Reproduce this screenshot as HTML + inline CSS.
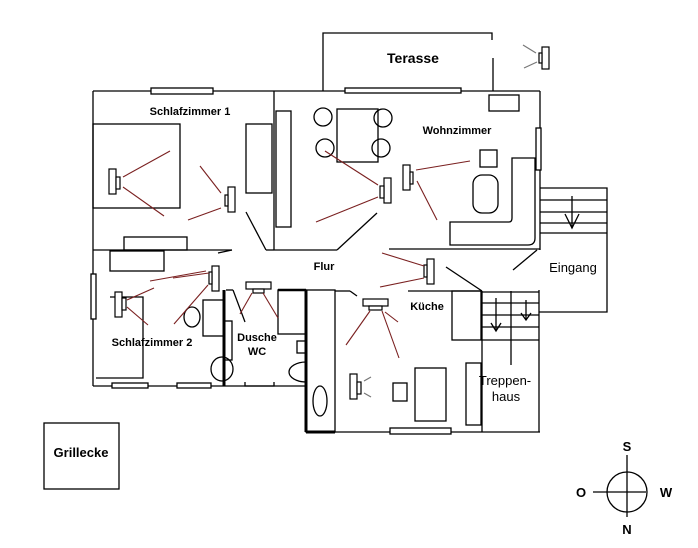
<!DOCTYPE html>
<html><head><meta charset="utf-8"><style>html,body{margin:0;padding:0;background:#fff}svg{display:block}</style></head><body>
<svg width="698" height="548" viewBox="0 0 698 548" xmlns="http://www.w3.org/2000/svg" font-family="Liberation Sans, sans-serif">
<rect width="698" height="548" fill="#fff"/>
<g stroke="#000" stroke-width="1.3" fill="none">
<polyline points="323,91 323,33 492,33 492,40"/>
<line x1="493" y1="58" x2="493" y2="91"/>
<line x1="93" y1="91" x2="540" y2="91"/>
<rect x="151" y="88" width="62" height="6" fill="#fff"/>
<rect x="345" y="88" width="116" height="5" fill="#fff"/>
<line x1="93" y1="91" x2="93" y2="250"/>
<line x1="274" y1="91" x2="274" y2="250"/>
<rect x="93" y="124" width="87" height="84"/>
<rect x="246" y="124" width="26" height="69"/>
<rect x="124" y="237" width="63" height="13"/>
<line x1="93" y1="250" x2="232" y2="250"/>
<line x1="246" y1="212" x2="266" y2="250"/>
<line x1="266" y1="250" x2="274" y2="250"/>
<rect x="276" y="111" width="15" height="116"/>
<line x1="274" y1="250" x2="337" y2="250"/>
<line x1="337" y1="250" x2="377" y2="213"/>
<line x1="389" y1="249" x2="540" y2="249"/>
<rect x="489" y="95" width="30" height="16"/>
<line x1="540" y1="91" x2="540" y2="250"/>
<rect x="536" y="128" width="5" height="42" fill="#fff"/>
<rect x="337" y="109" width="41" height="53"/>
<circle cx="323" cy="117" r="9"/><circle cx="383" cy="118" r="9"/>
<circle cx="325" cy="148" r="9"/><circle cx="381" cy="148" r="9"/>
<rect x="480" y="150" width="17" height="17"/>
<rect x="473" y="175" width="25" height="38" rx="9"/>
<path d="M512,158 L535,158 L535,238 Q535,245 528,245 L450,245 L450,222 L509,222 Q512,222 512,218 Z"/>
<line x1="513" y1="270" x2="537" y2="250"/>
<polyline points="540,188 607,188 607,312 539,312"/>
<line x1="540" y1="200" x2="607" y2="200"/><line x1="540" y1="212" x2="607" y2="212"/>
<line x1="540" y1="223" x2="607" y2="223"/><line x1="540" y1="233" x2="607" y2="233"/>
<line x1="572" y1="196" x2="572" y2="228"/><polyline points="565,214 572,228 579,214"/>
<line x1="93" y1="250" x2="93" y2="386"/>
<rect x="91" y="274" width="5" height="45" fill="#fff"/>
<rect x="110" y="251" width="54" height="20"/>
<polyline points="110,297 143,297 143,378 96,378"/>
<line x1="93" y1="386" x2="224" y2="386"/>
<rect x="112" y="383" width="36" height="5" fill="#fff"/>
<rect x="177" y="383" width="34" height="5" fill="#fff"/>
<line x1="224" y1="290" x2="224" y2="386" stroke-width="3"/>
<rect x="203" y="300" width="21" height="36"/>
<ellipse cx="192" cy="317" rx="8" ry="10"/>
<rect x="224" y="321" width="8" height="39"/>
<ellipse cx="222" cy="369" rx="11" ry="12"/>
<line x1="218" y1="253" x2="232" y2="250"/>
<line x1="224" y1="386" x2="306" y2="386"/>
<polyline points="245,382 245,386 274,386 274,382"/>
<line x1="226" y1="290" x2="233" y2="290"/>
<line x1="233" y1="290" x2="245" y2="322"/>
<rect x="278" y="290" width="28" height="44"/>
<line x1="278" y1="290" x2="306" y2="290" stroke-width="2.5"/>
<rect x="297" y="341" width="9" height="12"/>
<path d="M306,362 A17,10 0 0 0 306,382"/>
<line x1="306" y1="290" x2="306" y2="432" stroke-width="3"/>
<rect x="306" y="290" width="29" height="142"/>
<line x1="306" y1="432" x2="335" y2="432" stroke-width="3"/>
<ellipse cx="320" cy="401" rx="7" ry="15"/>
<line x1="335" y1="291" x2="350" y2="291"/><line x1="350" y1="291" x2="357" y2="296"/>
<line x1="408" y1="291" x2="482" y2="291"/>
<line x1="482" y1="291" x2="482" y2="432"/>
<line x1="335" y1="432" x2="540" y2="432"/>
<rect x="452" y="291" width="29" height="49"/>
<rect x="466" y="363" width="15" height="62"/>
<rect x="415" y="368" width="31" height="53"/>
<rect x="393" y="383" width="14" height="18"/>
<rect x="390" y="428" width="61" height="6" fill="#fff"/>
<line x1="446" y1="267" x2="482" y2="291"/>
<line x1="482" y1="292" x2="539" y2="292"/><line x1="482" y1="303" x2="539" y2="303"/>
<line x1="482" y1="315" x2="539" y2="315"/><line x1="482" y1="327" x2="539" y2="327"/>
<line x1="482" y1="340" x2="539" y2="340"/>
<line x1="511" y1="291" x2="511" y2="365"/>
<line x1="539" y1="290" x2="539" y2="432"/>
<line x1="496" y1="298" x2="496" y2="331"/><polyline points="491,323 496,331 501,323"/>
<line x1="526" y1="300" x2="526" y2="320"/><polyline points="521,313 526,320 531,313"/>
<rect x="44" y="423" width="75" height="66"/>
<circle cx="627" cy="492" r="20"/>
<line x1="593" y1="492" x2="646" y2="492"/>
<line x1="627" y1="455" x2="627" y2="517"/>
</g>
<g stroke="#000" stroke-width="1.2" fill="#fff">
<rect x="109" y="169" width="7" height="25"/><rect x="116" y="177" width="4" height="12"/>
<rect x="228" y="187" width="7" height="25"/><rect x="225" y="195" width="3" height="11"/>
<rect x="384" y="178" width="7" height="25"/><rect x="380" y="186" width="4" height="12"/>
<rect x="403" y="165" width="7" height="25"/><rect x="410" y="172" width="3" height="12"/>
<rect x="542" y="47" width="7" height="22"/><rect x="539" y="53" width="3" height="10"/>
<rect x="427" y="259" width="7" height="25"/><rect x="424" y="265" width="3" height="12"/>
<rect x="212" y="266" width="7" height="25"/><rect x="209" y="272" width="3" height="12"/>
<rect x="115" y="292" width="7" height="25"/><rect x="122" y="298" width="4" height="12"/>
<rect x="246" y="282" width="25" height="7"/><rect x="253" y="289" width="11" height="4"/>
<rect x="363" y="299" width="25" height="7"/><rect x="369" y="306" width="13" height="4"/>
<rect x="350" y="374" width="7" height="25"/><rect x="357" y="382" width="4" height="12"/>
</g>
<g stroke="#7a2020" stroke-width="1.1">
<line x1="123" y1="177" x2="170" y2="151"/><line x1="123" y1="187" x2="164" y2="216"/>
<line x1="200" y1="166" x2="221" y2="193"/><line x1="188" y1="220" x2="221" y2="208"/>
<line x1="325" y1="151" x2="378" y2="185"/><line x1="316" y1="222" x2="378" y2="197"/>
<line x1="416" y1="170" x2="470" y2="161"/><line x1="417" y1="181" x2="437" y2="220"/>
<line x1="382" y1="253" x2="424" y2="266"/><line x1="380" y1="287" x2="424" y2="278"/>
<line x1="150" y1="281" x2="206" y2="271"/><line x1="173" y1="278" x2="209" y2="273"/>
<line x1="208" y1="285" x2="174" y2="324"/><line x1="127" y1="300" x2="154" y2="288"/>
<line x1="127" y1="307" x2="148" y2="325"/>
<line x1="252" y1="293" x2="240" y2="314"/><line x1="263" y1="293" x2="278" y2="318"/>
<line x1="370" y1="311" x2="346" y2="345"/><line x1="382" y1="311" x2="399" y2="358"/>
<line x1="385" y1="312" x2="398" y2="322"/>
</g>
<g stroke="#777" stroke-width="1.2">
<line x1="523" y1="45" x2="536" y2="53"/><line x1="524" y1="68" x2="537" y2="62"/>
<line x1="364" y1="381" x2="371" y2="377"/><line x1="364" y1="393" x2="371" y2="397"/>
</g>
<g font-weight="bold" fill="#000">
<text x="413" y="63" font-size="14" text-anchor="middle">Terasse</text>
<text x="190" y="115" font-size="11" text-anchor="middle">Schlafzimmer 1</text>
<text x="457" y="134" font-size="11" text-anchor="middle">Wohnzimmer</text>
<text x="324" y="270" font-size="11" text-anchor="middle">Flur</text>
<text x="427" y="310" font-size="11" text-anchor="middle">Küche</text>
<text x="152" y="346" font-size="11" text-anchor="middle">Schlafzimmer 2</text>
<text x="257" y="341" font-size="11" text-anchor="middle">Dusche</text>
<text x="257" y="355" font-size="11" text-anchor="middle">WC</text>
<text x="81" y="457" font-size="13" text-anchor="middle">Grillecke</text>
<text x="627" y="451" font-size="13" text-anchor="middle">S</text>
<text x="581" y="497" font-size="13" text-anchor="middle">O</text>
<text x="666" y="497" font-size="13" text-anchor="middle">W</text>
<text x="627" y="534" font-size="13" text-anchor="middle">N</text>
</g>
<g fill="#000" font-size="13">
<text x="573" y="272" text-anchor="middle">Eingang</text>
<text x="505" y="385" text-anchor="middle">Treppen-</text>
<text x="506" y="401" text-anchor="middle">haus</text>
</g>
</svg>
</body></html>
